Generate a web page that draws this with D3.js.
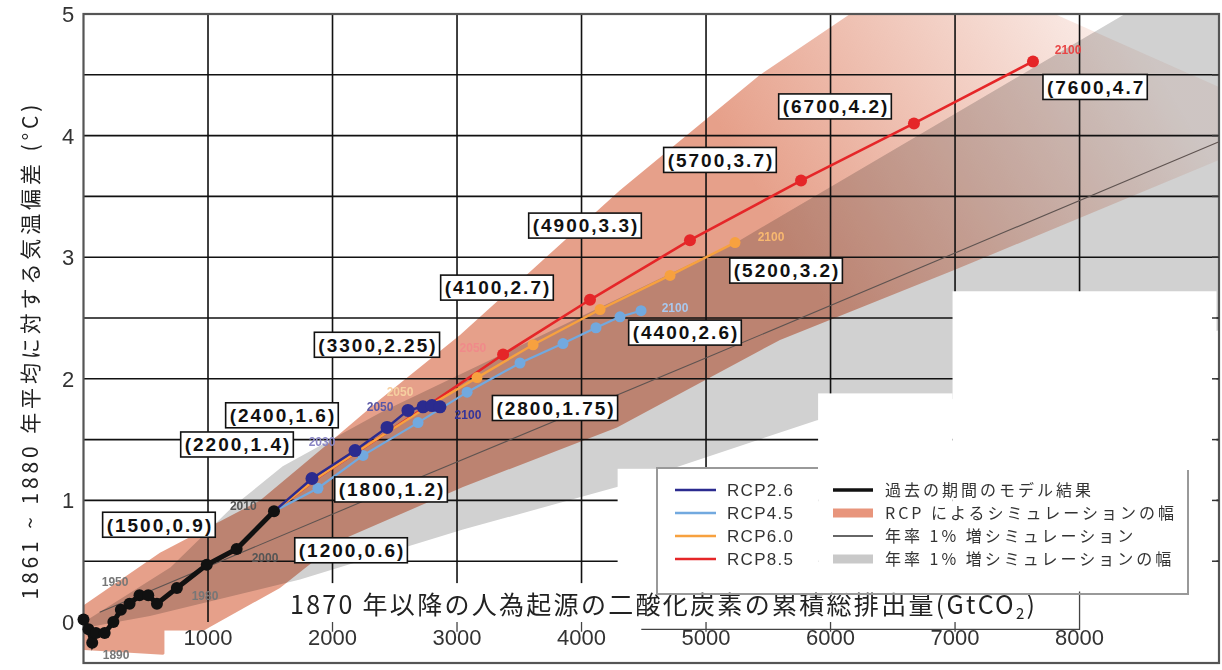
<!DOCTYPE html>
<html>
<head>
<meta charset="utf-8">
<script src="https://cdn.jsdelivr.net/npm/d3@7/dist/d3.min.js"></script>
<style>
  body { margin: 0; background: #fff; }
  svg { display: block; font-family: "Liberation Sans", Arial, sans-serif; }
  .grid line { stroke: #111; stroke-width: 1.6; }
  .tag rect { fill: #fff; stroke: #111; stroke-width: 1.6; }
  .tag text { font-weight: bold; font-size: 19px; letter-spacing: 2px; fill: #111; }
  .yr { font-size: 12px; font-weight: bold; }
  .jp { font-family: "Noto Sans CJK JP", "Noto Sans", sans-serif; }
  .tick { font-size: 22px; fill: #333; }
</style>
</head>
<body>
<svg id="chart" width="1222" height="670"></svg>
<script>
// ---- data (cumulative CO2 GtCO2, temperature anomaly degC) ----
const xTicks = [1000, 2000, 3000, 4000, 5000, 6000, 7000, 8000];
const yTicks = [0, 1, 2, 3, 4, 5];
const gridY = [0.5, 1, 1.5, 2, 2.5, 3, 3.5, 4, 4.5];

const historical = [[0,0.02],[40,-0.06],[70,-0.17],[100,-0.09],[170,-0.09],[240,0.0],[300,0.1],
  [370,0.15],[450,0.22],[520,0.22],[590,0.15],[750,0.28],[990,0.47],[1230,0.6],[1530,0.91]];
const rcp26 = [[1530,0.91],[1835,1.18],[2181,1.41],[2438,1.60],[2606,1.74],[2727,1.77],[2799,1.78],[2863,1.77]];
const rcp45 = [[1530,0.91],[1883,1.10],[2245,1.37],[2687,1.64],[3081,1.89],[3506,2.13],[3851,2.29],[4116,2.42],[4309,2.51],[4478,2.56]];
const rcp60 = [[1530,0.91],[1900,1.2],[2350,1.5],[2780,1.78],[3161,2.01],[3611,2.28],[4149,2.57],[4711,2.85],[5233,3.12]];
const rcp85 = [[1530,0.91],[1900,1.2],[2350,1.5],[2780,1.79],[3370,2.2],[4068,2.65],[4871,3.14],[5763,3.63],[6670,4.10],[7626,4.61]];
const onePct = [[130,0.08],[2540,1.12],[4950,2.15],[7360,3.19],[9120,3.95]];

const rcpUpper = [[4,0.14],[614,0.57],[1418,1.00],[2004,1.50],[2381,1.83],[3024,2.36],[4309,3.55],[5434,4.50],[6157,5.0],[7800,5.0],[9120,4.4]];
const rcpLower = [[4,-0.23],[639,-0.27],[1016,-0.04],[1578,0.28],[2060,0.67],[3048,1.11],[4285,1.60],[5594,2.32],[6984,2.89],[9120,3.80]];
const pctUpper = [[4,0.0],[700,0.45],[1200,0.95],[1600,1.28],[2382,1.72],[5273,3.14],[8365,5.0],[9120,5.0]];
const pctLower = [[4,-0.05],[534,0.05],[1739,0.35],[3048,0.76],[4285,1.11],[5892,1.66],[6968,1.83],[9120,2.40]];

const tagLabels = ["(1500,0.9)","(1200,0.6)","(2200,1.4)","(2400,1.6)","(1800,1.2)","(2800,1.75)","(3300,2.25)",
  "(4100,2.7)","(4400,2.6)","(4900,3.3)","(5200,3.2)","(5700,3.7)","(6700,4.2)","(7600,4.7"];
const tagAt = [[614,0.80],[2157,0.59],[1241,1.46],[1602,1.70],[2478,1.09],[3795,1.76],[2365,2.28],
  [3329,2.75],[4839,2.38],[4036,3.26],[5651,2.89],[5120,3.80],[6044,4.24],[8133,4.40]];

const yearLabels = ["1890","1950","1980","2000","2010","2030","2050","2050","2100","2050","2100","2100","2100"];
const yearAt = [[262,-0.27],[254,0.33],[976,0.21],[1458,0.53],[1283,0.95],[1916,1.48],[2382,1.77],[2542,1.89],
  [3088,1.70],[3128,2.25],[4751,2.58],[5522,3.17],[7908,4.70]];
const yearColor = ["#777","#777","#777","#555","#555","#8a86c4","#5a57a6","#f6cfa0","#34349a","#f08a8a","#a9c8ee","#f8b870","#e94545"];

const legendSeries = ["RCP2.6","RCP4.5","RCP6.0","RCP8.5"];
const legendOther = ["過去の期間のモデル結果","RCP によるシミュレーションの幅","年率 1% 増シミュレーション","年率 1% 増シミュレーションの幅"];

const C = { r26: "#2b2b8f", r45: "#72a9df", r60: "#f7a13f", r85: "#e52628", hist: "#111", salmon: "#e6a08a", gray: "#d1d1d1" };

// ---- scales ----
const svg = d3.select("#chart");
const x = d3.scaleLinear().domain([0, 9120]).range([83.5, 1219]);
const y = d3.scaleLinear().domain([-0.337, 5]).range([663, 14]);
const line = d3.line().x(d => x(d[0])).y(d => y(d[1]));
const poly = d3.line().x(d => x(d[0])).y(d => y(d[1])).curve(d3.curveLinearClosed);

const defs = svg.append("defs");
const grad = defs.append("linearGradient").attr("id", "fade").attr("gradientUnits", "userSpaceOnUse")
  .attr("x1", x(5500)).attr("y1", y(3.4)).attr("x2", x(8300)).attr("y2", y(5.1));
grad.append("stop").attr("offset", "0").attr("stop-color", C.salmon).attr("stop-opacity", 1);
grad.append("stop").attr("offset", "1").attr("stop-color", C.salmon).attr("stop-opacity", 0.15);

// ---- bands ----
svg.append("path").attr("d", poly(pctUpper.concat(pctLower.slice().reverse()))).attr("fill", C.gray);
svg.append("path").attr("d", poly(rcpUpper.concat(rcpLower.slice().reverse())))
  .attr("fill", "url(#fade)").style("mix-blend-mode", "multiply");

// ---- grid ----
const grid = svg.append("g").attr("class", "grid");
grid.selectAll(".v").data(xTicks).join("line").attr("class", "v")
  .attr("x1", d => x(d)).attr("x2", d => x(d)).attr("y1", y(5)).attr("y2", y(0));
grid.selectAll(".h").data(gridY).join("line").attr("class", "h")
  .attr("x1", x(0)).attr("x2", x(9120)).attr("y1", d => y(d)).attr("y2", d => y(d));

// white patches pasted over the lower right of the figure
const patches = [[6980, 9100, 2.72], [5900, 6980, 1.88], [4290, 5900, 1.26], [1700, 9100, 0.32], [650, 1700, -0.07]];
svg.selectAll(".patch").data(patches).join("rect").attr("class", "patch").attr("fill", "#fff")
  .attr("x", d => x(d[0])).attr("width", d => x(d[1]) - x(d[0]))
  .attr("y", d => y(d[2])).attr("height", d => y(-0.325) - y(d[2]));

// frame
svg.append("rect").attr("x", x(0)).attr("y", y(5)).attr("width", x(9120) - x(0)).attr("height", y(-0.337) - y(5))
  .attr("fill", "none").attr("stroke", "#555").attr("stroke-width", 2.2);
svg.selectAll(".rt").data(gridY).join("line").attr("class", "rt")
  .attr("x1", x(9120) - 7).attr("x2", x(9120)).attr("y1", d => y(d)).attr("y2", d => y(d)).attr("stroke", "#333").attr("stroke-width", 1.5);

// remnants of original axis under the x label
const og = svg.append("g").attr("stroke", "#444").attr("stroke-width", 1.3);
og.selectAll("line").data([2000, 3000, 4000, 5000, 6000, 7000]).join("line")
  .attr("x1", d => x(d)).attr("x2", d => x(d)).attr("y1", y(-0.0)).attr("y2", y(-0.08));
og.append("path").attr("fill", "none")
  .attr("d", `M${x(4480)},${y(-0.06)}H${x(8000)}V${y(0.25)}`);

// ---- 1% line ----
svg.append("path").attr("d", line(onePct)).attr("fill", "none").attr("stroke", "#5e5350").attr("stroke-width", 1.1);

// ---- series ----
function series(data, color, w, r, dotsFrom) {
  svg.append("path").attr("d", line(data)).attr("fill", "none").attr("stroke", color).attr("stroke-width", w);
  svg.append("g").selectAll("circle").data(data.slice(dotsFrom)).join("circle")
    .attr("cx", d => x(d[0])).attr("cy", d => y(d[1])).attr("r", r).attr("fill", color);
}
series(rcp85, C.r85, 2.6, 6, 4);
series(rcp60, C.r60, 2.4, 5.5, 4);
series(rcp45, C.r45, 2.2, 5.5, 1);
series(rcp26, C.r26, 2.4, 6.5, 1);
series(historical, C.hist, 5, 6, 0);

// ---- year labels ----
svg.selectAll(".yr").data(yearLabels).join("text").attr("class", "yr")
  .attr("x", (d, i) => x(yearAt[i][0])).attr("y", (d, i) => y(yearAt[i][1]) + 4)
  .attr("text-anchor", "middle").attr("fill", (d, i) => yearColor[i]).text(d => d);

// ---- boxed annotations ----
const tags = svg.selectAll(".tag").data(tagLabels).join("g").attr("class", "tag")
  .attr("transform", (d, i) => `translate(${x(tagAt[i][0])},${y(tagAt[i][1])})`);
tags.append("rect");
tags.append("text").attr("text-anchor", "middle").attr("dy", "0.36em").text(d => d);
tags.each(function () {
  const b = d3.select(this).select("text").node().getBBox();
  d3.select(this).select("rect").attr("x", b.x - 4).attr("y", -12.5).attr("width", b.width + 6).attr("height", 25);
});

// ---- axes text ----
svg.selectAll(".yt").data(yTicks).join("text").attr("class", "tick")
  .attr("x", 68).attr("y", d => y(d) + 8).attr("text-anchor", "middle").text(d => d);
svg.selectAll(".xt").data(xTicks).join("text").attr("class", "tick")
  .attr("x", d => x(d)).attr("y", y(-0.12) + 8).attr("text-anchor", "middle").text(d => d);

const xl = svg.append("text").attr("class", "jp").attr("x", 290).attr("y", 614)
  .attr("font-size", 25).attr("fill", "#222").attr("textLength", 745).attr("lengthAdjust", "spacing");
xl.append("tspan").text("1870 年以降の人為起源の二酸化炭素の累積総排出量(GtCO");
xl.append("tspan").attr("font-size", 15).attr("dy", 5).text("2");
xl.append("tspan").attr("dy", -5).text(")");

svg.append("text").attr("class", "jp").attr("transform", "translate(38,352) rotate(-90)")
  .attr("text-anchor", "middle").attr("font-size", 21).attr("fill", "#222")
  .attr("textLength", 495).attr("lengthAdjust", "spacing")
  .text("1861 ~ 1880 年平均に対する気温偏差 (°C)");

// ---- legend ----
const lg = svg.append("g").attr("transform", "translate(657,468)");
lg.append("path").attr("fill", "none").attr("stroke", "#999").attr("stroke-width", 2)
  .attr("d", "M161,0H0V126H531V2");
const seriesColors = [C.r26, C.r45, C.r60, C.r85];
legendSeries.forEach((t, i) => {
  const yy = 22 + i * 23;
  lg.append("line").attr("x1", 18).attr("x2", 59).attr("y1", yy).attr("y2", yy).attr("stroke", seriesColors[i]).attr("stroke-width", 2.6);
  lg.append("text").attr("x", 70).attr("y", yy + 6).attr("font-size", 17).attr("letter-spacing", 1.3).attr("fill", "#333").text(t);
});
const otherSw = [["line", C.hist, 3.5], ["band", "#e8957c", 9], ["line", "#666", 2], ["band", "#c9c9c9", 9]];
legendOther.forEach((t, i) => {
  const yy = 22 + i * 23;
  lg.append("line").attr("x1", 176).attr("x2", 216).attr("y1", yy).attr("y2", yy)
    .attr("stroke", otherSw[i][1]).attr("stroke-width", otherSw[i][2]);
  lg.append("text").attr("class", "jp").attr("x", 228).attr("y", yy + 6).attr("font-size", 16)
    .attr("letter-spacing", 3).attr("fill", "#333").text(t);
});
</script>
</body>
</html>
